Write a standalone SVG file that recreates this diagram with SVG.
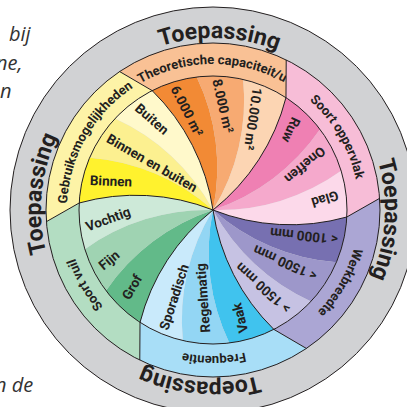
<svg xmlns="http://www.w3.org/2000/svg" width="407" height="407" viewBox="0 0 407 407">
<style>
.ln{fill:none;stroke:#231f20;stroke-width:1}
.t{font-family:Roboto,"Open Sans",sans-serif;font-weight:700;fill:#231f20}
.lab{font-size:13.5px;text-anchor:middle}
.rt{font-size:13px;text-anchor:middle}
.toe{font-size:23px;text-anchor:middle}
.it{font-family:"Open Sans","Liberation Sans",sans-serif;font-style:italic;font-size:20px;fill:#333}
</style>
<defs>
<path id="p1" d="M213,356 A146,146 0 1 1 213,64 A146,146 0 1 1 213,356 A146,146 0 1 1 213,64 A146,146 0 1 1 213,356"/>
<path id="p2" d="M213,382 A172,172 0 1 1 213,38 A172,172 0 1 1 213,382 A172,172 0 1 1 213,38 A172,172 0 1 1 213,382"/>
</defs>
<rect width="407" height="407" fill="#fff"/>
<g id="outside-text" class="it">
<text x="9" y="41">bij</text>
<text x="-4" y="70">ne,</text>
<text x="0" y="98">n</text>
<text x="-5" y="392">n de</text>
</g>
<g id="toepassing">
<circle cx="213" cy="210" r="203" fill="#d1d2d4" stroke="#231f20" stroke-width="1"/>
<text class="t toe"><textPath href="#p2" startOffset="546.6">Toepassing</textPath></text>
<text class="t toe"><textPath href="#p2" startOffset="820">Toepassing</textPath></text>
<text class="t toe"><textPath href="#p2" startOffset="1093.3">Toepassing</textPath></text>
<text class="t toe"><textPath href="#p2" startOffset="1366.6">Toepassing</textPath></text>
</g>
<g id="cat-capaciteit">
<path d="M152.16,90.61 A134,134 0 0 1 285.98,97.62 L286.21,59.9 A167,167 0 0 0 119.61,71.56 Z" fill="#f9c195"/>
<g id="cap-6000"><path d="M213,210 A210,210 0 0 0 152.16,90.61 A134,134 0 0 1 196.67,77 A210,210 0 0 1 213,210 Z" fill="#f28a35"/><text class="t lab" transform="translate(187 111) rotate(63)" dy=".35em">6.000 m²</text></g>
<g id="cap-8000"><path d="M213,210 A210,210 0 0 0 196.67,77 A134,134 0 0 1 243.15,79.43 A210,210 0 0 1 213,210 Z" fill="#f7aa72"/><text class="t lab" transform="translate(223 106) rotate(77)" dy=".35em">8.000 m²</text></g>
<g id="cap-10000"><path d="M213,210 A210,210 0 0 0 243.15,79.43 A134,134 0 0 1 285.98,97.62 A210,210 0 0 1 213,210 Z" fill="#fcd5b3"/><text class="t lab" transform="translate(253 119) rotate(98)" dy=".35em">10.000 m²</text></g>
<text class="t rt"><textPath href="#p1" startOffset="1374.7">Theoretische capaciteit/u</textPath></text>
</g>
<g id="cat-oppervlak">
<path d="M285.98,97.62 A134,134 0 0 1 346.82,217.01 L379.6,198.35 A167,167 0 0 0 286.21,59.9 Z" fill="#f7bdd7"/>
<g id="opp-ruw"><path d="M213,210 A210,210 0 0 0 285.98,97.62 A134,134 0 0 1 320.02,129.36 A210,210 0 0 1 213,210 Z" fill="#ef80b3"/><text class="t lab" transform="translate(291 130) rotate(115)" dy=".35em">Ruw</text></g>
<g id="opp-oneffen"><path d="M213,210 A210,210 0 0 0 320.02,129.36 A134,134 0 0 1 341.14,170.82 A210,210 0 0 1 213,210 Z" fill="#f5a9cc"/><text class="t lab" transform="translate(305 165) rotate(140)" dy=".35em">Oneffen</text></g>
<g id="opp-glad"><path d="M213,210 A210,210 0 0 0 341.14,170.82 A134,134 0 0 1 346.82,217.01 A210,210 0 0 1 213,210 Z" fill="#fcd9ea"/><text class="t lab" transform="translate(325 199) rotate(163)" dy=".35em">Glad</text></g>
<text class="t rt"><textPath href="#p1" startOffset="610.3">Soort oppervlak</textPath></text>
</g>
<g id="cat-werkbreedte">
<path d="M346.82,217.01 A134,134 0 0 1 273.84,329.39 L306.39,348.44 A167,167 0 0 0 379.6,198.35 Z" fill="#aba6d4"/>
<g id="wb-1000"><path d="M213,210 A210,210 0 0 0 346.82,217.01 A134,134 0 0 1 336.35,262.35 A210,210 0 0 1 213,210 Z" fill="#7770b1"/><text class="t lab" transform="translate(304 236) rotate(186)" dy=".35em">&lt; 1000 mm</text></g>
<g id="wb-1500a"><path d="M213,210 A210,210 0 0 0 336.35,262.35 A134,134 0 0 1 311.01,301.39 A210,210 0 0 1 213,210 Z" fill="#9d97ca"/><text class="t lab" transform="translate(285 263) rotate(204)" dy=".35em">&lt; 1500 mm</text></g>
<g id="wb-1500b"><path d="M213,210 A210,210 0 0 0 311.01,301.39 A134,134 0 0 1 273.84,329.39 A210,210 0 0 1 213,210 Z" fill="#c6c2e3"/><text class="t lab" transform="translate(263 288) rotate(222)" dy=".35em">&gt; 1500 mm</text></g>
<text class="t rt"><textPath href="#p1" startOffset="763.2">Werkbreedte</textPath></text>
</g>
<g id="cat-frequentie">
<path d="M273.84,329.39 A134,134 0 0 1 140.02,322.38 L139.79,360.1 A167,167 0 0 0 306.39,348.44 Z" fill="#a8def7"/>
<g id="fr-vaak"><path d="M213,210 A210,210 0 0 0 273.84,329.39 A134,134 0 0 1 229.33,343 A210,210 0 0 1 213,210 Z" fill="#40c3ee"/><text class="t lab" transform="translate(240 318) rotate(-104)" dy=".35em">Vaak</text></g>
<g id="fr-regelmatig"><path d="M213,210 A210,210 0 0 0 229.33,343 A134,134 0 0 1 182.85,340.57 A210,210 0 0 1 213,210 Z" fill="#93d6f4"/><text class="t lab" transform="translate(203 298) rotate(-94)" dy=".35em">Regelmatig</text></g>
<g id="fr-sporadisch"><path d="M213,210 A210,210 0 0 0 182.85,340.57 A134,134 0 0 1 140.02,322.38 A210,210 0 0 1 213,210 Z" fill="#c9eafb"/><text class="t lab" transform="translate(174 297) rotate(-72)" dy=".35em">Sporadisch</text></g>
<text class="t rt"><textPath href="#p1" startOffset="916.1">Frequentie</textPath></text>
</g>
<g id="cat-vuil">
<path d="M140.02,322.38 A134,134 0 0 1 79.18,202.99 L46.4,221.65 A167,167 0 0 0 139.79,360.1 Z" fill="#b3ddc2"/>
<g id="vu-grof"><path d="M213,210 A210,210 0 0 0 140.02,322.38 A134,134 0 0 1 105.98,290.64 A210,210 0 0 1 213,210 Z" fill="#62ba89"/><text class="t lab" transform="translate(132 287) rotate(-60)" dy=".35em">Grof</text></g>
<g id="vu-fijn"><path d="M213,210 A210,210 0 0 0 105.98,290.64 A134,134 0 0 1 84.86,249.18 A210,210 0 0 1 213,210 Z" fill="#9fd3b2"/><text class="t lab" transform="translate(109 260) rotate(-40)" dy=".35em">Fijn</text></g>
<g id="vu-vochtig"><path d="M213,210 A210,210 0 0 0 84.86,249.18 A134,134 0 0 1 79.18,202.99 A210,210 0 0 1 213,210 Z" fill="#cde9d8"/><text class="t lab" transform="translate(108 219) rotate(-20)" dy=".35em">Vochtig</text></g>
<text class="t rt"><textPath href="#p1" startOffset="1069">Soort vuil</textPath></text>
</g>
<g id="cat-gebruik">
<path d="M79.18,202.99 A134,134 0 0 1 152.16,90.61 L119.61,71.56 A167,167 0 0 0 46.4,221.65 Z" fill="#fdf3a7"/>
<g id="ge-binnen"><path d="M213,210 A210,210 0 0 0 79.18,202.99 A134,134 0 0 1 89.65,157.65 A210,210 0 0 1 213,210 Z" fill="#fff22e"/><text class="t lab" transform="translate(111 181) rotate(2)" dy=".35em">Binnen</text></g>
<g id="ge-beide"><path d="M213,210 A210,210 0 0 0 89.65,157.65 A134,134 0 0 1 114.99,118.61 A210,210 0 0 1 213,210 Z" fill="#fcf090"/><text class="t lab" transform="translate(152 163) rotate(30)" dy=".35em">Binnen en buiten</text></g>
<g id="ge-buiten"><path d="M213,210 A210,210 0 0 0 114.99,118.61 A134,134 0 0 1 152.16,90.61 A210,210 0 0 1 213,210 Z" fill="#fff9cb"/><text class="t lab" transform="translate(152 119) rotate(41)" dy=".35em">Buiten</text></g>
<text class="t rt"><textPath href="#p1" startOffset="1221.9">Gebruiksmogelijkheden</textPath></text>
</g>
<g id="connectors" class="ln">
<circle cx="213" cy="210" r="134"/>
<circle cx="213" cy="210" r="167"/>
<path d="M213,210 A210,210 0 0 0 152.16,90.61 L119.61,71.56"/>
<path d="M213,210 A210,210 0 0 0 285.98,97.62 L286.21,59.9"/>
<path d="M213,210 A210,210 0 0 0 346.82,217.01 L379.6,198.35"/>
<path d="M213,210 A210,210 0 0 0 273.84,329.39 L306.39,348.44"/>
<path d="M213,210 A210,210 0 0 0 140.02,322.38 L139.79,360.1"/>
<path d="M213,210 A210,210 0 0 0 79.18,202.99 L46.4,221.65"/>
</g>
</svg>
